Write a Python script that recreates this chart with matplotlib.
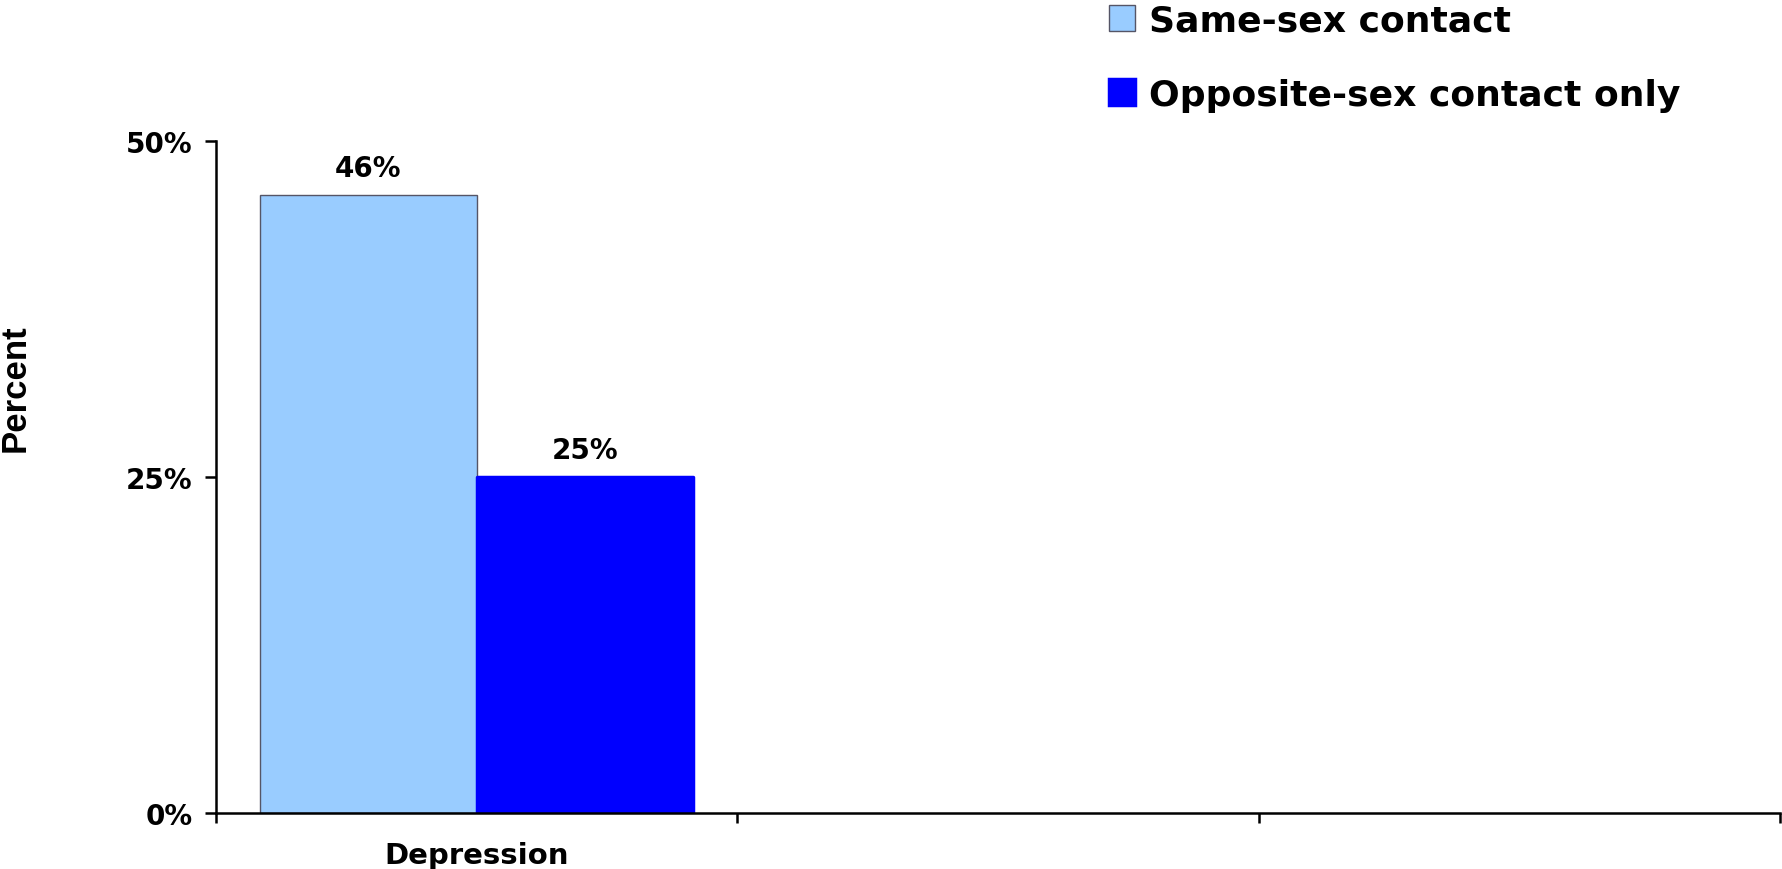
import numpy as np
import matplotlib.pyplot as plt
from matplotlib.ticker import PercentFormatter

# Chart data
categories = ['Depression', '', '']
series_names = ['Same-sex contact', 'Opposite-sex contact only']
same_sex = [46]
opposite_sex = [25]

plt.rcParams['font.family'] = ['DejaVu Sans']
plt.rcParams['font.weight'] = 'bold'

fig = plt.figure(figsize=(17.82, 8.70), dpi=100)
ax = fig.add_axes([0.1212, 0.0644, 0.8777, 0.7724])

x = np.arange(len(same_sex))
w = 0.415
b1 = ax.bar(x - w / 2, same_sex, w, color='#99CCFF', edgecolor='#555566',
            linewidth=1, label=series_names[0])
b2 = ax.bar(x + w / 2, opposite_sex, w, color='#0000FF', edgecolor='#0000FF',
            linewidth=2.5, joinstyle='round', label=series_names[1])

for bars in (b1, b2):
    ax.bar_label(bars, labels=[f'{v:.0f}%' for v in bars.datavalues],
                 padding=9, fontsize=20, fontweight='bold')

# Axes styling
ax.set_xlim(-0.5, len(categories) - 0.5)
ax.set_ylim(0, 50)
ax.set_yticks([0, 25, 50])
ax.yaxis.set_major_formatter(PercentFormatter(xmax=100, decimals=0))
ax.tick_params(axis='y', length=8, width=1.8, pad=9, labelsize=20)

# category boundaries as major ticks, names on minor ticks
ax.set_xticks(np.arange(len(categories) + 1) - 0.5)
ax.set_xticklabels([])
ax.set_xticks(np.arange(len(categories)), minor=True)
ax.set_xticklabels(categories, minor=True, fontsize=21, fontweight='bold')
ax.tick_params(axis='x', which='major', length=7, width=1.8)
ax.tick_params(axis='x', which='minor', length=0, pad=20)

for s in ('top', 'right'):
    ax.spines[s].set_visible(False)
for s in ('left', 'bottom'):
    ax.spines[s].set_linewidth(1.8)
ax.spines['left'].set_capstyle('projecting')

fig.text(15 / 1782, 1 - 388 / 870, 'Percent', rotation=90, ha='center',
         va='center', fontsize=25, fontweight='bold', family='Liberation Sans')

fig.legend(handles=[b1, b2], loc='upper left', bbox_to_anchor=(1109 / 1782, 0.995),
           frameon=False, fontsize=26, handlelength=0.72, handleheight=0.72,
           handletextpad=0.4, labelspacing=1.12, borderpad=0, borderaxespad=0)

fig.savefig('out.png', dpi=100)
